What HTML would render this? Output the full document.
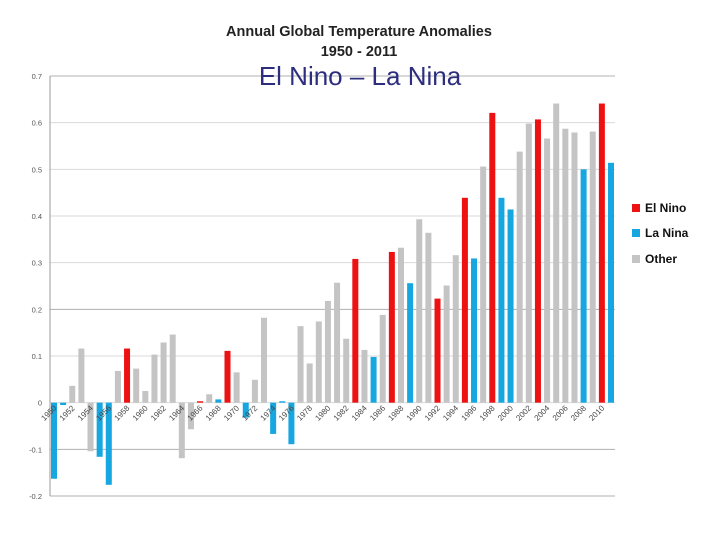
<!DOCTYPE html>
<html><head><meta charset="utf-8"><style>
html,body{margin:0;padding:0;background:#fff;width:720px;height:540px;overflow:hidden}
svg{display:block;font-family:"Liberation Sans",sans-serif}
</style></head><body>
<svg id="chart" width="720" height="540">
<text x="359" y="36" text-anchor="middle" font-size="14.5" font-weight="bold" fill="#222">Annual Global Temperature Anomalies</text>
<text x="359" y="56" text-anchor="middle" font-size="14.5" font-weight="bold" fill="#222">1950 - 2011</text>
<g id="grid"></g>
<g id="bars"></g>
<g id="labels"></g>
<text x="360" y="85" text-anchor="middle" font-size="26" fill="#2e2e7e">El Nino – La Nina</text>
<g>
<rect x="632" y="204" width="8" height="8" fill="#ee1111"/>
<text x="645" y="212" font-size="12" font-weight="bold" fill="#111">El Nino</text>
<rect x="632" y="229" width="8" height="8" fill="#16a6e0"/>
<text x="645" y="237" font-size="12" font-weight="bold" fill="#111">La Nina</text>
<rect x="632" y="255" width="8" height="8" fill="#c4c4c4"/>
<text x="645" y="263" font-size="12" font-weight="bold" fill="#111">Other</text>
</g>
</svg>
<script>
const years = [];
for (let y = 1950; y <= 2011; y++) years.push(y);
const anomalies = [-0.163,-0.005,0.036,0.116,-0.104,-0.116,-0.176,0.068,0.116,0.073,
0.025,0.103,0.129,0.146,-0.119,-0.057,0.003,0.018,0.007,0.111,
0.065,-0.032,0.049,0.182,-0.067,0.003,-0.089,0.164,0.084,0.174,
0.218,0.257,0.137,0.308,0.113,0.098,0.188,0.323,0.332,0.256,
0.393,0.364,0.223,0.251,0.316,0.439,0.309,0.506,0.621,0.439,
0.414,0.538,0.598,0.607,0.566,0.641,0.587,0.579,0.500,0.581,
0.641,0.514];
const phase = ["N","N","O","O","O","N","N","O","E","O",
"O","O","O","O","O","O","E","O","N","E",
"O","N","O","O","N","N","N","O","O","O",
"O","O","O","E","O","N","O","E","O","N",
"O","O","E","O","O","E","N","O","E","N",
"N","O","O","E","O","O","O","O","N","O",
"E","N"];
const yTicks = [0.7,0.6,0.5,0.4,0.3,0.2,0.1,0,-0.1,-0.2];
const yTickLabels = ["0.7","0.6","0.5","0.4","0.3","0.2","0.1","0","-0.1","-0.2"];

const NS = "http://www.w3.org/2000/svg";
const plotL = 50, plotR = 615;
const yTop = 76, yBot = 496, vMax = 0.7, vMin = -0.2;
function yScale(v){ return yTop + (vMax - v) / (vMax - vMin) * (yBot - yTop); }
const x0 = 54, x1 = 611;
function xScale(i){ return x0 + i * (x1 - x0) / (years.length - 1); }
const colors = {E:"#ee1111", N:"#16a6e0", O:"#c4c4c4"};

const grid = document.getElementById("grid");
yTicks.forEach((t, i) => {
  const y = yScale(t);
  const ln = document.createElementNS(NS, "line");
  ln.setAttribute("x1", plotL); ln.setAttribute("x2", plotR);
  ln.setAttribute("y1", y); ln.setAttribute("y2", y);
  ln.setAttribute("stroke", (t === 0.7 || t === 0.2 || t < 0) ? "#b0b0b0" : "#dadada");
  ln.setAttribute("stroke-width", "1");
  
  
  grid.appendChild(ln);
  const tx = document.createElementNS(NS, "text");
  tx.setAttribute("x", 42); tx.setAttribute("y", y + 3);
  tx.setAttribute("text-anchor", "end");
  tx.setAttribute("font-size", "7.5"); tx.setAttribute("fill", "#555");
  tx.textContent = yTickLabels[i];
  
  
  grid.appendChild(tx);
});
const ax = document.createElementNS(NS, "line");
ax.setAttribute("x1", plotL); ax.setAttribute("x2", plotL);
ax.setAttribute("y1", yTop); ax.setAttribute("y2", yBot);
ax.setAttribute("stroke", "#999");


grid.appendChild(ax);

const bars = document.getElementById("bars");
const y0 = yScale(0);
anomalies.forEach((v, i) => {
  const r = document.createElementNS(NS, "rect");
  const yv = yScale(v);
  r.setAttribute("x", xScale(i) - 3);
  r.setAttribute("width", 6);
  r.setAttribute("y", Math.min(yv, y0));
  r.setAttribute("height", Math.max(Math.abs(yv - y0), 1));
  r.setAttribute("fill", colors[phase[i]]);
  
  
  bars.appendChild(r);
});

const labels = document.getElementById("labels");
years.forEach((yr, i) => {
  if (i % 2 !== 0) return;
  const x = xScale(i) + 3, y = y0 + 6;
  const t = document.createElementNS(NS, "text");
  t.setAttribute("x", x); t.setAttribute("y", y);
  t.setAttribute("text-anchor", "end");
  t.setAttribute("font-size", "8"); t.setAttribute("fill", "#444");
  t.setAttribute("transform", "rotate(-45 " + x + " " + y + ")");
  t.textContent = yr;
  
  
  labels.appendChild(t);
});
</script>
</body></html>
